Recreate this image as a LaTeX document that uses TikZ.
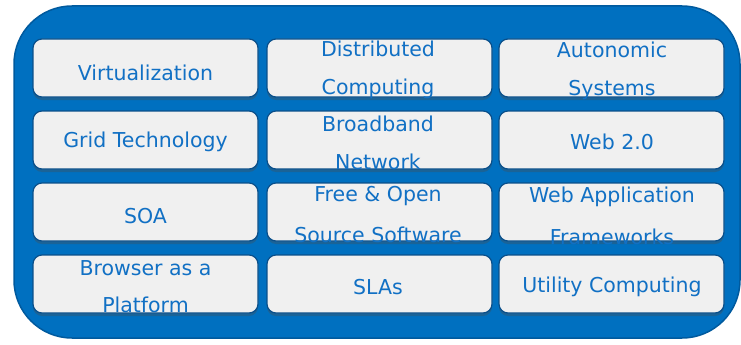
\documentclass[tikz,border=0pt]{standalone}
\usepackage{fontspec}
\setmainfont{DejaVu Sans}
\usetikzlibrary{shadows}
\definecolor{outerblue}{HTML}{0070C0}
\definecolor{outeredge}{HTML}{005A9E}
\definecolor{boxedge}{HTML}{0A4F8A}
\definecolor{boxfill}{HTML}{F0F0F0}
\definecolor{txtblue}{HTML}{1170C4}
\begin{document}
\begin{tikzpicture}[x=1pt,y=-1pt,
  outer/.style={draw=outeredge,line width=1.5pt,fill=outerblue,rounded corners=58pt},
  cell/.style={draw=boxedge,line width=1.2pt,fill=boxfill,rounded corners=9pt,
    drop shadow={shadow xshift=0pt,shadow yshift=-3pt,fill=black!70,opacity=0.35}},
  lbl/.style={font=\fontsize{20.5}{20.5}\selectfont,text=txtblue,inner sep=0pt}]
\useasboundingbox (0,0) rectangle (741,345);
\draw[outer] (14,6) rectangle (740,338);
% cells: columns and rows
\foreach \cx/\cy [count=\i] in {33/39,267/39,499/39,33/111,267/111,499/111,33/183,267/183,499/183,33/255,267/255,499/255}{
  \path[cell] (\cx,\cy) rectangle ++(225,58);
}
% row 1
\node[lbl] (virt) at (145.5,73) {Virtualization};
\node[lbl] (dist1) at (378,49) {Distributed};
\node[lbl] (dist2) at (378,89) {Computing};
\node[lbl] (auto1) at (612,50) {Autonomic};
\node[lbl] (auto2) at (612,90) {Systems};
% row 2
\node[lbl] (grid) at (145.5,142) {Grid Technology};
\node[lbl] (broad1) at (378,124) {Broadband};
\node[lbl] (broad2) at (378,162) {Network};
\node[lbl] (web2) at (612,142) {Web 2.0};
% row 3
\node[lbl] (soa) at (145.5,216) {SOA};
\node[lbl] (foss1) at (378,196) {Free \& Open};
\node[lbl] (foss2) at (378,235) {Source Software};
\node[lbl] (waf1) at (612,197) {Web Application};
\node[lbl] (waf2) at (612,237) {Frameworks};
% row 4
\node[lbl] (bap1) at (145.5,268) {Browser as a};
\node[lbl] (bap2) at (145.5,305) {Platform};
\node[lbl] (slas) at (378,287) {SLAs};
\node[lbl] (util) at (612,287) {Utility Computing};
\end{tikzpicture}
\end{document}
